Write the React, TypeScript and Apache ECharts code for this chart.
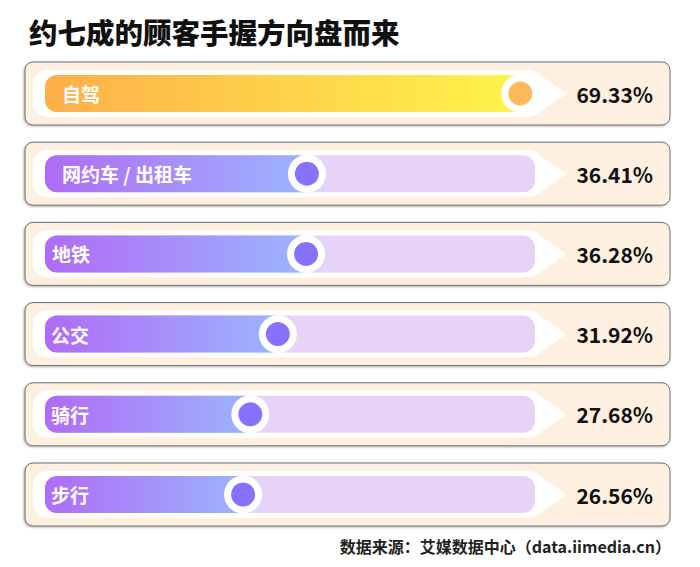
import React, { useEffect, useRef } from 'react';
import * as echarts from 'echarts';

const categories = ['自驾', '网约车 / 出租车', '地铁', '公交', '骑行', '步行'];
const values = [69.33, 36.41, 36.28, 31.92, 27.68, 26.56];
const titleText = '约七成的顾客手握方向盘而来';
const sourceText = '数据来源：艾媒数据中心（data.iimedia.cn）';

const FONT = '"Noto Sans CJK SC", "Noto Sans", sans-serif';
const labelIndent = [17, 17, 7, 6, 6, 6];

export default function App() {
  const ref = useRef<HTMLDivElement>(null);
  useEffect(() => {
    document.body.style.margin = '0';
    const chart = echarts.init(ref.current!, null, { renderer: 'svg' });
    const data = values.map((v, i) => [v, i]);
    const renderItem = (params: any, api: any) => {
      const i = api.value(1);
      const v = api.value(0);
      const pt = api.coord([v, i]);
      const cx = pt[0];
      const cy = pt[1];
      const cs = params.coordSys;
      const L = cs.x;
      const R = cs.x + cs.width;
      const first = i === 0;
      const fill = first
        ? new echarts.graphic.LinearGradient(0, 0, 1, 0, [
            { offset: 0, color: '#FDAF4A' },
            { offset: 1, color: '#FFF54A' },
          ])
        : new echarts.graphic.LinearGradient(0, 0, 1, 0, [
            { offset: 0, color: '#B06BF6' },
            { offset: 1, color: '#9CB4FD' },
          ]);
      return {
        type: 'group',
        children: [
          {
            type: 'rect',
            shape: { x: L - 20, y: cy - 31.5, width: R + 135 - (L - 20), height: 63, r: 8 },
            style: {
              fill: '#FDF0E0',
              stroke: '#6e6e6e',
              lineWidth: 1,
              shadowBlur: 2,
              shadowColor: 'rgba(0,0,0,0.3)',
              shadowOffsetX: -1,
              shadowOffsetY: 1,
            },
          },
          {
            type: 'rect',
            shape: { x: L - 12, y: cy - 23.5, width: R + 8 - (L - 12), height: 47, r: 14 },
            style: { fill: '#ffffff' },
          },
          {
            type: 'polygon',
            shape: { points: [[R + 4, cy - 19], [R + 32, cy], [R + 4, cy + 19]] },
            style: { fill: '#ffffff' },
          },
          {
            type: 'rect',
            shape: { x: L, y: cy - 18.5, width: R - L, height: 37, r: 12 },
            style: { fill: first ? '#FFE9B8' : '#E6D3F7' },
          },
          {
            type: 'rect',
            shape: { x: L, y: cy - 18.5, width: cx - L, height: 37, r: [12, 0, 0, 12] },
            style: { fill },
          },
          {
            type: 'circle',
            shape: { cx, cy, r: 19 },
            style: { fill: '#ffffff' },
          },
          {
            type: 'circle',
            shape: { cx, cy, r: 12 },
            style: { fill: first ? '#FDB95A' : '#8672FF' },
          },
          {
            type: 'text',
            x: L + labelIndent[i],
            y: cy,
            style: {
              text: categories[i],
              fill: '#ffffff',
              font: `bold 19px ${FONT}`,
              textAlign: 'left',
              textVerticalAlign: 'middle',
            },
          },
          {
            type: 'text',
            x: R + 118,
            y: cy,
            style: {
              text: v.toFixed(2) + '%',
              fill: '#111111',
              font: `bold 21px ${FONT}`,
              textAlign: 'right',
              textVerticalAlign: 'middle',
            },
          },
        ],
      };
    };
    chart.setOption({
      animation: false,
      backgroundColor: '#ffffff',
      title: {
        text: titleText,
        left: 24,
        top: 12,
        textStyle: { fontFamily: FONT, fontSize: 28.5, fontWeight: 900, color: '#111111' },
      },
      grid: { left: 45, right: 165, top: 53.4, bottom: 32.4 },
      xAxis: { type: 'value', min: -4, max: 71.6, show: false },
      yAxis: { type: 'category', data: categories, inverse: true, show: false },
      graphic: [
        {
          type: 'text',
          right: 29,
          top: 538,
          style: { text: sourceText, font: `bold 16px ${FONT}`, fill: '#222222' },
        },
      ],
      series: [
        {
          type: 'custom',
          coordinateSystem: 'cartesian2d',
          encode: { x: 0, y: 1 },
          data,
          renderItem,
        },
      ],
    });
    return () => chart.dispose();
  }, []);
  return <div ref={ref} style={{ width: 700, height: 567 }} />;
}
